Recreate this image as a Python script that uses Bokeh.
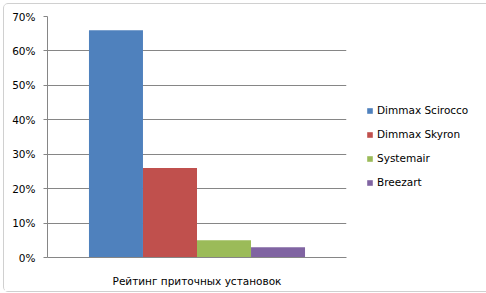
from bokeh.plotting import figure
from bokeh.models import (FactorRange, Range1d, FixedTicker, NumeralTickFormatter,
                          ColumnDataSource, Legend, LegendItem)
from bokeh.transform import dodge
from bokeh.embed import file_html
from bokeh.resources import INLINE

category = ["Рейтинг приточных установок"]
series = ["Dimmax Scirocco", "Dimmax Skyron", "Systemair", "Breezart"]
values = [0.66, 0.26, 0.05, 0.03]
colors = ["#4F81BD", "#C0504D", "#9BBB59", "#8064A2"]
y_ticks = [0, 0.1, 0.2, 0.3, 0.4, 0.5, 0.6, 0.7]

FONT = "DejaVu Sans"
FS = "10.5px"

p = figure(width=480, height=287, x_range=FactorRange(*category, range_padding=0),
           y_range=Range1d(0, 0.7), output_backend="svg", toolbar_location=None,
           frame_width=299, frame_height=241,
           min_border_left=43, min_border_top=12, min_border_bottom=34, min_border_right=138)
p.styles = {"margin": "3px", "border": "1px solid #d0d0d0", "border-radius": "5px",
            "box-sizing": "content-box"}
p.outline_line_color = None
p.background_fill_color = "white"
p.border_fill_color = "white"

bar_w = 0.1806
offsets = [-0.271, -0.0903, 0.0903, 0.271]
items = []
for s, v, c, off in zip(series, values, colors, offsets):
    src = ColumnDataSource(dict(x=category, top=[v]))
    r = p.vbar(x=dodge("x", off, range=p.x_range), top="top", width=bar_w, source=src,
               fill_color=c, line_color=None)
    items.append(LegendItem(label=s, renderers=[r]))

legend = Legend(items=items, location=(20, 68), padding=0, margin=0,
                glyph_width=7, glyph_height=7, label_height=14, spacing=10,
                label_standoff=4, label_text_font=FONT, label_text_font_size=FS,
                label_text_color="#000000", border_line_color=None,
                background_fill_alpha=0)
p.add_layout(legend, "right")

p.yaxis.ticker = FixedTicker(ticks=y_ticks)
p.yaxis.formatter = NumeralTickFormatter(format="0%")
p.yaxis.axis_line_color = "#868686"
p.yaxis.major_tick_line_color = "#868686"
p.yaxis.major_tick_out = 4
p.yaxis.major_tick_in = 0
p.yaxis.minor_tick_line_color = None
p.yaxis.major_label_standoff = 8
p.yaxis.major_label_text_font = FONT
p.yaxis.major_label_text_font_size = FS
p.yaxis.major_label_text_color = "#000000"

p.xaxis.axis_line_color = "#868686"
p.xaxis.major_tick_line_color = None
p.xaxis.major_label_standoff = 11
p.xaxis.major_label_text_font = FONT
p.xaxis.major_label_text_font_size = FS
p.xaxis.major_label_text_color = "#000000"

p.xgrid.grid_line_color = None
p.ygrid.grid_line_color = "#868686"
p.ygrid.ticker = FixedTicker(ticks=y_ticks)

open("out.html", "w").write(file_html(p, INLINE))
